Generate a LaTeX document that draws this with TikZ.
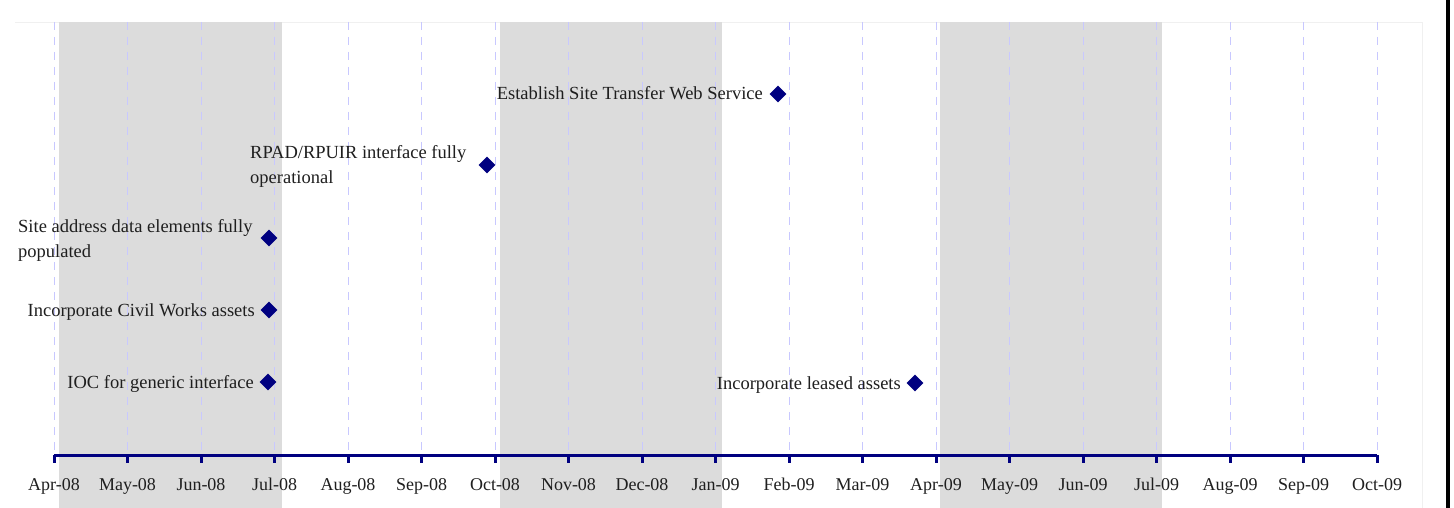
\documentclass[tikz,border=0pt]{standalone}
\usepackage{fontspec}
\setmainfont{Liberation Serif}
\usetikzlibrary{shapes.geometric}
\definecolor{navy}{HTML}{000080}
\definecolor{band}{HTML}{DCDCDC}
\definecolor{gridc}{HTML}{C8C8FF}
\tikzset{
  band/.style={fill=band,draw=none},
  grid/.style={draw=gridc,line width=0.8pt,dash pattern=on 8pt off 7pt},
  axisline/.style={draw=navy,line width=3pt},
  tickmark/.style={draw=navy,line width=3pt},
  monthlbl/.style={font=\fontsize{18}{21}\selectfont,text=black!88,anchor=base,inner sep=0pt},
  ms/.style={diamond,fill=navy,draw=none,minimum width=17pt,minimum height=17pt,inner sep=0pt},
  mlbl/.style={font=\fontsize{18.5}{25}\selectfont,text=black!88,inner sep=0pt,align=left},
}
\begin{document}
\begin{tikzpicture}[x=1pt,y=-1pt]
\useasboundingbox (0,0) rectangle (1454,508);
\fill[white] (0,0) rectangle (1454,508);
\draw[black!6,line width=0.6pt] (15,22) -- (1422,22) -- (1422,508);
% shaded bands
\fill[band] (59,22) rectangle (282,508);
\fill[band] (500,22) rectangle (722,508);
\fill[band] (940,22) rectangle (1162,508);
% grid lines, ticks and month labels
\foreach \m/\lab [count=\i from 0] in {0/Apr-08,1/May-08,2/Jun-08,3/Jul-08,4/Aug-08,5/Sep-08,6/Oct-08,7/Nov-08,8/Dec-08,9/Jan-09,10/Feb-09,11/Mar-09,12/Apr-09,13/May-09,14/Jun-09,15/Jul-09,16/Aug-09,17/Sep-09,18/Oct-09}{
  \coordinate (t\m) at ({54+73.5*\m},455);
  \coordinate (g\m) at ({54+73.5*\m},22);
  \coordinate (b\m) at ({54+73.5*\m},463);
  \draw[grid] (g\m) -- (t\m);
  \node[monthlbl] (ml\m) at ({54+73.5*\m},490) {\lab};
}
\draw[axisline] (t0) -- (t18);
\foreach \m in {0,...,18}{\draw[tickmark] (t\m) -- (b\m);}
% milestones
\node[ms] (d1) at (778,94) {};
\node[mlbl,anchor=base east] (l1) at (763,100) {Establish Site Transfer Web Service};
\node[ms] (d2) at (487,165) {};
\node[mlbl,anchor=base west] (l2a) at (250,158) {RPAD/RPUIR interface fully};
\node[mlbl,anchor=base west] (l2b) at (250,183) {operational};
\node[ms] (d3) at (269,238) {};
\node[mlbl,anchor=base west] (l3a) at (18,232) {Site address data elements fully};
\node[mlbl,anchor=base west] (l3b) at (18,257) {populated};
\node[ms] (d4) at (269,310) {};
\node[mlbl,anchor=base east] (l4) at (255,316) {Incorporate Civil Works assets};
\node[ms] (d5) at (268,382) {};
\node[mlbl,anchor=base east] (l5) at (254,388) {IOC for generic interface};
\node[ms] (d6) at (915,383) {};
\node[mlbl,anchor=base east] (l6) at (901,389) {Incorporate leased assets};
% right border
\draw[black,line width=4pt] (1448,0) -- (1448,508);
\end{tikzpicture}
\end{document}
